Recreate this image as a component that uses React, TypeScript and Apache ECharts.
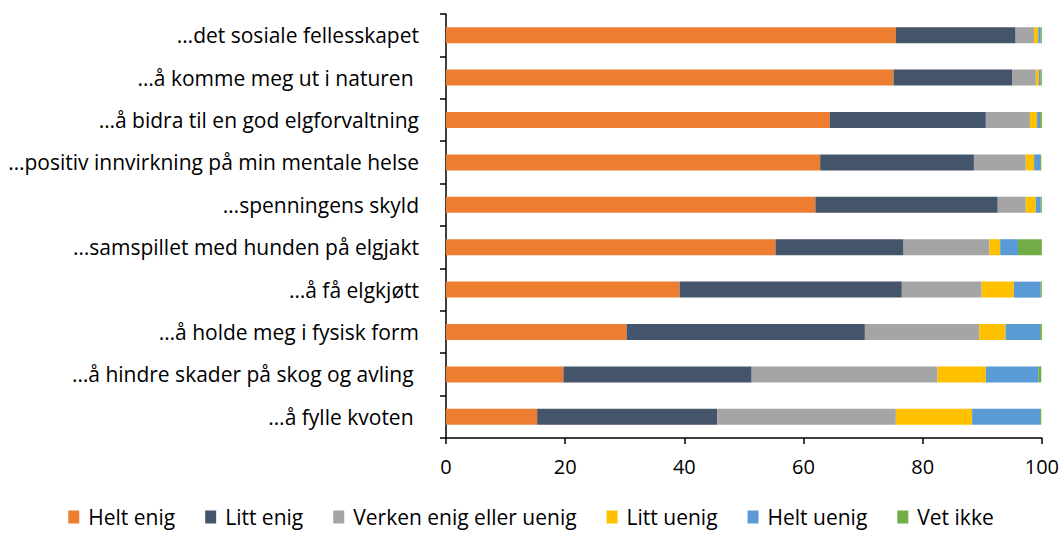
import React, { useEffect, useRef } from "react";
import * as echarts from "echarts";

const categories = [
  "…det sosiale fellesskapet",
  "…å komme meg ut i naturen ",
  "…å bidra til en god elgforvaltning",
  "…positiv innvirkning på min mentale helse",
  "…spenningens skyld",
  "…samspillet med hunden på elgjakt",
  "…å få elgkjøtt",
  "…å holde meg i fysisk form",
  "…å hindre skader på skog og avling ",
  "…å fylle kvoten ",
];

const seriesNames = ["Helt enig", "Litt enig", "Verken enig eller uenig", "Litt uenig", "Helt uenig", "Vet ikke"];
const colors = ["#ED7D31", "#44546A", "#A5A5A5", "#FFC000", "#5B9BD5", "#70AD47"];

const heltEnig = [75.5, 75.1, 64.4, 62.8, 62.0, 55.3, 39.2, 30.3, 19.7, 15.3];
const littEnig = [20.1, 19.9, 26.2, 25.8, 30.6, 21.5, 37.3, 40.0, 31.6, 30.2];
const verken = [3.1, 4.0, 7.4, 8.7, 4.7, 14.4, 13.4, 19.2, 31.2, 30.0];
const littUenig = [0.7, 0.5, 1.2, 1.4, 1.7, 1.8, 5.4, 4.4, 8.1, 12.8];
const heltUenig = [0.4, 0.3, 0.5, 1.0, 0.8, 3.0, 4.5, 5.8, 8.8, 11.4];
const vetIkke = [0.2, 0.2, 0.3, 0.2, 0.2, 4.0, 0.3, 0.3, 0.5, 0.2];

const xTicks = { min: 0, max: 100, interval: 20 };

const FONT = "'Open Sans', 'Noto Sans', sans-serif";

export default function App() {
  const ref = useRef<HTMLDivElement>(null);
  useEffect(() => {
    if (!ref.current) return;
    const chart = echarts.init(ref.current, undefined, { renderer: "svg" });
    const all = [heltEnig, littEnig, verken, littUenig, heltUenig, vetIkke];
    chart.setOption({
      animation: false,
      textStyle: { fontFamily: FONT },
      grid: { left: 446, right: 18, top: 14, bottom: 96, containLabel: false },
      legend: {
        top: 501,
        left: "center",
        itemWidth: 11,
        itemHeight: 13,
        itemGap: 30,
        icon: "rect",
        textStyle: { fontSize: 21, lineHeight: 22, color: "#000", fontFamily: FONT, padding: [0, 0, 0, 4] },
        data: seriesNames,
      },
      xAxis: {
        type: "value",
        min: xTicks.min,
        max: xTicks.max,
        interval: xTicks.interval,
        axisLine: { show: true, lineStyle: { color: "#000", width: 1.5 } },
        axisTick: { show: true, length: 6, lineStyle: { color: "#000", width: 1.5 } },
        axisLabel: { fontSize: 20, color: "#000", margin: 18, fontFamily: FONT },
        splitLine: { show: false },
      },
      yAxis: {
        type: "category",
        inverse: true,
        data: categories,
        axisLine: { show: true, lineStyle: { color: "#000", width: 1.5 } },
        axisTick: { show: true, length: 6, lineStyle: { color: "#000", width: 1.5 } },
        axisLabel: { fontSize: 21, color: "#000", margin: 27, fontFamily: FONT },
      },
      series: seriesNames.map((name, i) => ({
        name,
        type: "bar",
        stack: "total",
        data: all[i],
        barWidth: 16,
        itemStyle: { color: colors[i] },
      })),
    });
    return () => chart.dispose();
  }, []);
  return <div ref={ref} style={{ width: 1062, height: 534, position: "absolute", left: 0, top: 0 }} />;
}
